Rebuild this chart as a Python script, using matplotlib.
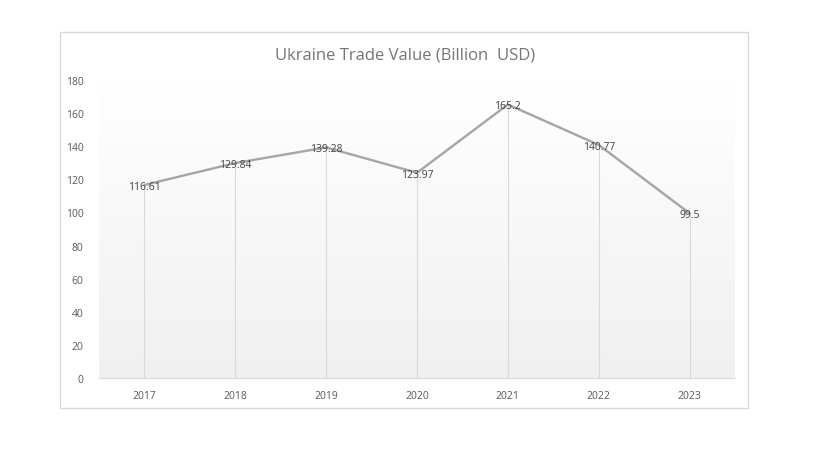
import matplotlib
matplotlib.use("Agg")
import matplotlib.pyplot as plt
import numpy as np
from matplotlib.patches import Rectangle

years = ["2017", "2018", "2019", "2020", "2021", "2022", "2023"]
values = [116.61, 129.84, 139.28, 123.97, 165.2, 140.77, 99.5]
labels = ["116.61", "129.84", "139.28", "123.97", "165.2", "140.77", "99.5"]
yticks = [0, 20, 40, 60, 80, 100, 120, 140, 160, 180]

plt.rcParams['font.family'] = ['Open Sans', 'DejaVu Sans']

W, H = 819, 460
fig = plt.figure(figsize=(W / 100, H / 100), dpi=100)
fig.patch.set_facecolor('white')

# outer chart border
fig.patches.append(Rectangle((60 / W, 1 - 409 / H), (748 - 60) / W, (409 - 33) / H,
                             transform=fig.transFigure, fill=False,
                             edgecolor='#d9d9d9', linewidth=1.0))

ax = fig.add_axes([99 / W, 1 - 379 / H, (735 - 99) / W, (379 - 81) / H])
x = np.arange(len(years))

# gradient background
grad = np.linspace(0, 1, 256).reshape(-1, 1)
cmap = matplotlib.colors.LinearSegmentedColormap.from_list('g', ['#f0f0f0', '#ffffff'])
ax.imshow(grad, aspect='auto', cmap=cmap, origin='lower',
          extent=[0, 1, 0, 1], transform=ax.transAxes, zorder=0)

ax.set_xlim(-0.5, len(years) - 0.5)
ax.set_ylim(0, 180)

# drop lines
ax.vlines(x, 0, values, colors='#d9d9d9', linewidth=0.8, zorder=1)
ax.plot(x, values, color='#a5a5a5', linewidth=1.7, zorder=2, solid_capstyle='round')

for xi, v, lab in zip(x, values, labels):
    ax.text(xi, v - 0.8, lab, ha='center', va='center', fontsize=7.5, color='#404040', zorder=3)

ax.set_xticks(x)
ax.set_xticklabels(years, fontsize=7.5, color='#595959')
ax.set_yticks(yticks)
ax.set_yticklabels([str(t) for t in yticks], fontsize=7.5, color='#595959')
ax.tick_params(axis='both', length=0)
ax.tick_params(axis='x', pad=9)
ax.tick_params(axis='y', pad=11)

for s in ['top', 'right', 'left']:
    ax.spines[s].set_visible(False)
ax.spines['bottom'].set_color('#d9d9d9')
ax.spines['bottom'].set_linewidth(0.8)
ax.set_facecolor('none')

fig.text(405 / W, 1 - 55 / H, "Ukraine Trade Value (Billion  USD)", ha='center', va='center',
         fontsize=12, color='#757575')

fig.savefig('out.png', dpi=100)
